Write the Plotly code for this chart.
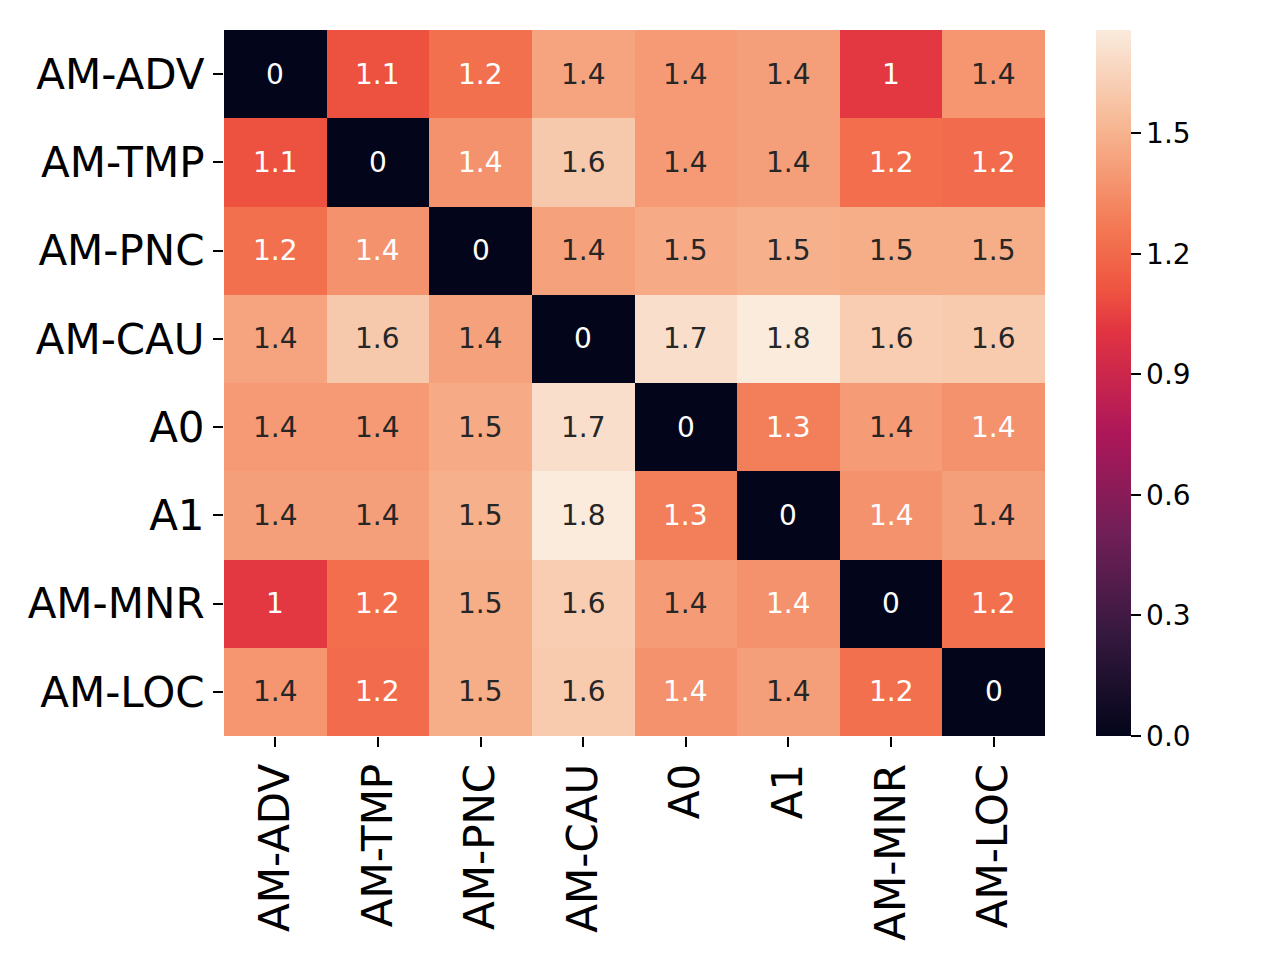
import plotly.graph_objects as go

# role labels, same order on both axes (top-to-bottom, left-to-right)
labels = ["AM-ADV", "AM-TMP", "AM-PNC", "AM-CAU", "A0", "A1", "AM-MNR", "AM-LOC"]

# pairwise distance, one list per row
row_adv = [0.00, 1.10, 1.23, 1.44, 1.40, 1.42, 1.02, 1.385]
row_tmp = [1.10, 0.00, 1.37, 1.60, 1.40, 1.42, 1.22, 1.21]
row_pnc = [1.23, 1.37, 0.00, 1.43, 1.47, 1.49, 1.48, 1.48]
row_cau = [1.44, 1.60, 1.43, 0.00, 1.70, 1.757, 1.62, 1.61]
row_a0 = [1.40, 1.40, 1.47, 1.70, 0.00, 1.29, 1.41, 1.37]
row_a1 = [1.42, 1.42, 1.49, 1.757, 1.29, 0.00, 1.37, 1.42]
row_mnr = [1.02, 1.22, 1.48, 1.62, 1.41, 1.37, 0.00, 1.23]
row_loc = [1.385, 1.21, 1.48, 1.61, 1.37, 1.42, 1.23, 0.00]

z = [row_adv, row_tmp, row_pnc, row_cau, row_a0, row_a1, row_mnr, row_loc]
cbar_ticks = [0.0, 0.3, 0.6, 0.9, 1.2, 1.5]

# approximation of seaborn "rocket"
rocket = [
    [0.0, "#03051a"],
    [1 / 7, "#35193e"],
    [2 / 7, "#701f57"],
    [3 / 7, "#ad1759"],
    [4 / 7, "#e13342"],
    [0.63, "#ee5340"],
    [5 / 7, "#f37651"],
    [6 / 7, "#f6b48f"],
    [1.0, "#faebdd"],
]

FONT = "DejaVu Sans"
zmax = max(max(r) for r in z)

# page body has an 8px margin, so shift the plot box back by that much
L, T, PW, PH = 216, 22, 821, 706

fig = go.Figure()
fig.add_heatmap(
    x=labels,
    y=labels,
    z=z,
    zmin=0,
    zmax=zmax,
    colorscale=rocket,
    colorbar=dict(
        thickness=35,
        thicknessmode="pixels",
        len=1,
        lenmode="fraction",
        x=(1096 - 224) / PW,
        xanchor="left",
        xpad=0,
        y=0.5,
        yanchor="middle",
        ypad=0,
        outlinewidth=0,
        ticks="outside",
        ticklen=10,
        tickwidth=2,
        tickcolor="black",
        tickvals=cbar_ticks,
        tickformat=".1f",
        tickfont=dict(family=FONT, size=28, color="black"),
    ),
)

# cell labels, light text on dark cells like seaborn does
for i, row in enumerate(z):
    for j, v in enumerate(row):
        fig.add_annotation(
            x=labels[j],
            y=labels[i],
            text=format(v, ".2g"),
            showarrow=False,
            font=dict(family=FONT, size=28, color="white" if v < 1.38 else "#262626"),
        )

axis_common = dict(
    showgrid=False,
    zeroline=False,
    showline=False,
    ticks="outside",
    ticklen=10,
    tickwidth=2,
    tickcolor="black",
    tickfont=dict(family=FONT, size=42, color="black"),
    automargin=False,
)
fig.update_xaxes(tickangle=-90, **axis_common)
fig.update_yaxes(autorange="reversed", **axis_common)

fig.update_layout(
    width=1280,
    height=960,
    margin=dict(l=L, r=1280 - L - PW, t=T, b=960 - T - PH),
    plot_bgcolor="white",
    paper_bgcolor="white",
    font=dict(family=FONT),
)

fig.write_html("out.html")
